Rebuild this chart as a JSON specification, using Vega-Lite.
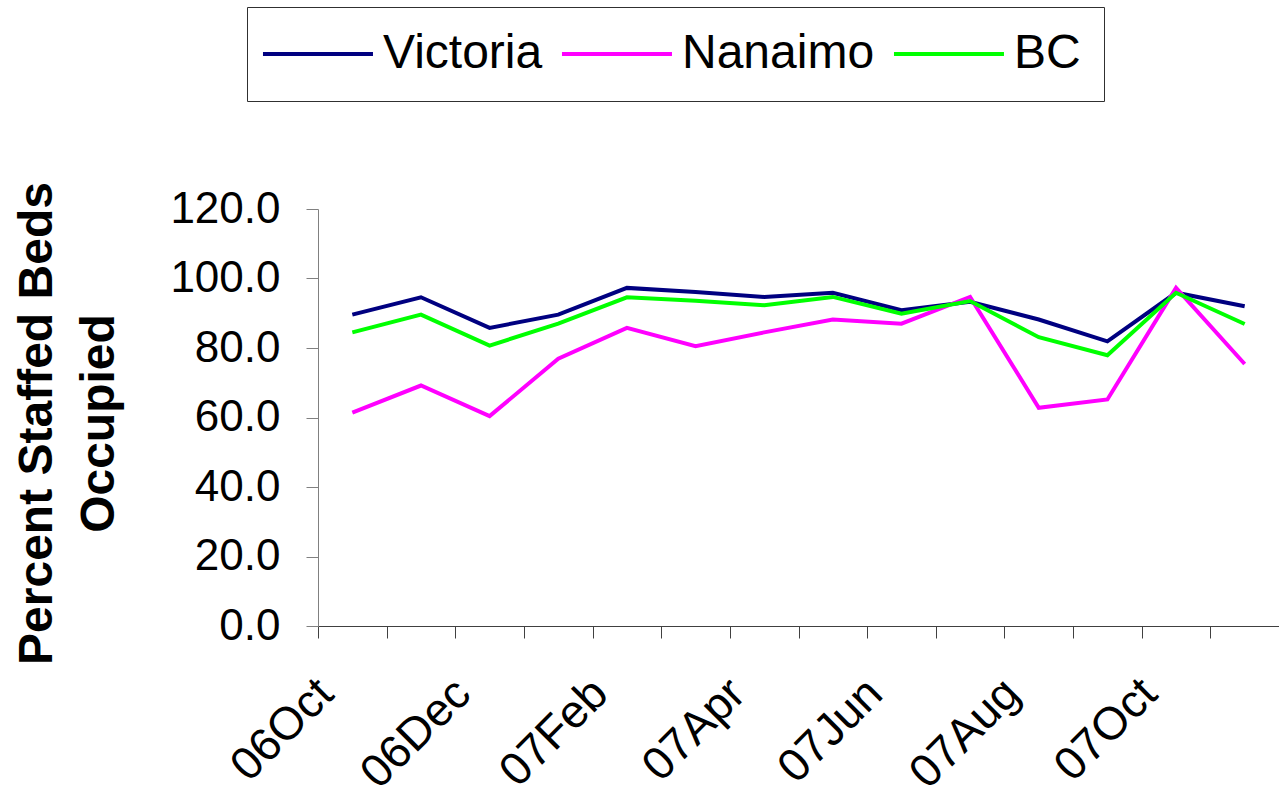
{
  "$schema": "https://vega.github.io/schema/vega-lite/v6.json",
  "autosize": {"type": "none"},
  "width": 961,
  "height": 417,
  "padding": {"left": 318, "top": 209, "right": 0, "bottom": 174},
  "background": "white",
  "config": {
    "view": {"stroke": null},
    "font": "Liberation Sans",
    "axis": {"grid": false, "labelFont": "Liberation Sans", "titleFont": "Liberation Sans", "labelColor": "black", "titleColor": "black"},
    "legend": {"labelFont": "Liberation Sans"}
  },
  "data": {
    "values": [
      {"month": "06Oct", "series": "Victoria", "value": 89.6},
      {"month": "06Nov", "series": "Victoria", "value": 94.6},
      {"month": "06Dec", "series": "Victoria", "value": 85.8},
      {"month": "07Jan", "series": "Victoria", "value": 89.6},
      {"month": "07Feb", "series": "Victoria", "value": 97.3},
      {"month": "07Mar", "series": "Victoria", "value": 96.1},
      {"month": "07Apr", "series": "Victoria", "value": 94.7},
      {"month": "07May", "series": "Victoria", "value": 95.9},
      {"month": "07Jun", "series": "Victoria", "value": 90.9},
      {"month": "07Jul", "series": "Victoria", "value": 93.3},
      {"month": "07Aug", "series": "Victoria", "value": 88.2},
      {"month": "07Sep", "series": "Victoria", "value": 81.9},
      {"month": "07Oct", "series": "Victoria", "value": 95.9},
      {"month": "07Nov", "series": "Victoria", "value": 92.0},
      {"month": "06Oct", "series": "Nanaimo", "value": 61.4},
      {"month": "06Nov", "series": "Nanaimo", "value": 69.2},
      {"month": "06Dec", "series": "Nanaimo", "value": 60.4},
      {"month": "07Jan", "series": "Nanaimo", "value": 76.9},
      {"month": "07Feb", "series": "Nanaimo", "value": 85.8},
      {"month": "07Mar", "series": "Nanaimo", "value": 80.5},
      {"month": "07Apr", "series": "Nanaimo", "value": 84.5},
      {"month": "07May", "series": "Nanaimo", "value": 88.2},
      {"month": "07Jun", "series": "Nanaimo", "value": 87.0},
      {"month": "07Jul", "series": "Nanaimo", "value": 94.7},
      {"month": "07Aug", "series": "Nanaimo", "value": 62.8},
      {"month": "07Sep", "series": "Nanaimo", "value": 65.2},
      {"month": "07Oct", "series": "Nanaimo", "value": 97.3},
      {"month": "07Nov", "series": "Nanaimo", "value": 75.4},
      {"month": "06Oct", "series": "BC", "value": 84.5},
      {"month": "06Nov", "series": "BC", "value": 89.6},
      {"month": "06Dec", "series": "BC", "value": 80.7},
      {"month": "07Jan", "series": "BC", "value": 87.0},
      {"month": "07Feb", "series": "BC", "value": 94.6},
      {"month": "07Mar", "series": "BC", "value": 93.6},
      {"month": "07Apr", "series": "BC", "value": 92.3},
      {"month": "07May", "series": "BC", "value": 94.7},
      {"month": "07Jun", "series": "BC", "value": 89.9},
      {"month": "07Jul", "series": "BC", "value": 93.5},
      {"month": "07Aug", "series": "BC", "value": 83.1},
      {"month": "07Sep", "series": "BC", "value": 77.9},
      {"month": "07Oct", "series": "BC", "value": 95.9},
      {"month": "07Nov", "series": "BC", "value": 86.9}
    ]
  },
  "mark": {"type": "line", "strokeWidth": 4, "strokeJoin": "miter"},
  "encoding": {
    "x": {
      "field": "month",
      "type": "ordinal",
      "sort": null,
      "bandPosition": 0.5,
      "scale": {"type": "band", "paddingInner": 0, "paddingOuter": 0},
      "axis": {
        "title": null,
        "tickBand": "extent",
        "tickSize": 12,
        "tickColor": "#404040",
        "domainColor": "#404040",
        "labelAngle": -45,
        "labelAlign": "right",
        "labelBaseline": "middle",
        "labelFontSize": 46,
        "labelPadding": 48,
        "labelOffset": -27,
        "labelOverlap": false,
        "labelExpr": "indexof(['06Oct','06Dec','07Feb','07Apr','07Jun','07Aug','07Oct'], datum.value) >= 0 ? datum.value : ''"
      }
    },
    "y": {
      "field": "value",
      "type": "quantitative",
      "scale": {"domain": [0, 120], "nice": false, "zero": true},
      "axis": {
        "title": ["Percent Staffed Beds", "Occupied"],
        "titleFontSize": 48,
        "titleFontWeight": "bold",
        "titleLineHeight": 62,
        "titlePadding": 46,
        "titleY": 214,
        "values": [0, 20, 40, 60, 80, 100, 120],
        "format": ".1f",
        "labelFontSize": 44,
        "labelPadding": 26,
        "tickSize": 12,
        "tickColor": "#808080",
        "domainColor": "#808080"
      }
    },
    "color": {
      "field": "series",
      "type": "nominal",
      "sort": ["Victoria", "Nanaimo", "BC"],
      "scale": {"domain": ["Victoria", "Nanaimo", "BC"], "range": ["#000080", "#FF00FF", "#00FF00"]},
      "legend": {
        "title": null,
        "orient": "none",
        "legendX": -71,
        "legendY": -202,
        "direction": "horizontal",
        "symbolType": "M-2.82,0H7.18",
        "symbolSize": 484,
        "symbolStrokeWidth": 4,
        "labelFontSize": 48,
        "labelLimit": 0,
        "labelOffset": 65,
        "columnPadding": 10,
        "padding": 23,
        "strokeColor": "#303030",
        "fillColor": "white",
        "labelColor": "black"
      }
    }
  }
}
